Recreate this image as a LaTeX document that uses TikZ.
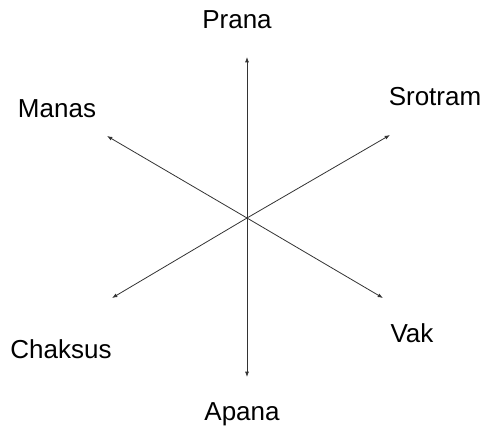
\documentclass[tikz,border=0pt]{standalone}
\usepackage{fontspec}
\setmainfont{Liberation Sans}
\usetikzlibrary{arrows.meta}
\begin{document}
\begin{tikzpicture}[x=0.75pt, y=-0.75pt,
  spoke/.style={draw=black!80, line width=0.6pt, -{Latex[length=4pt,width=3pt]}},
  vayu/.style={anchor=base, font=\fontsize{19.5}{23}\selectfont, inner sep=0pt}]
\useasboundingbox (0,0) rectangle (493,429);
\coordinate (hub) at (247,218);
% arrow ends and labels
\foreach \nm/\tx/\ty/\lx/\ly/\txt in {prana/247/57/237/28/Prana,srotram/390/135/435/105/Srotram,vak/383/298/412/342/Vak,apana/247/377/242/420/Apana,chaksus/112/298/61/358/Chaksus,manas/107/136/57/117/Manas} {
  \coordinate (\nm-tip) at (\tx,\ty);
  \node[vayu] (\nm) at (\lx,\ly) {\txt};
  \draw[spoke] (hub) -- (\nm-tip);
}
\end{tikzpicture}
\end{document}
